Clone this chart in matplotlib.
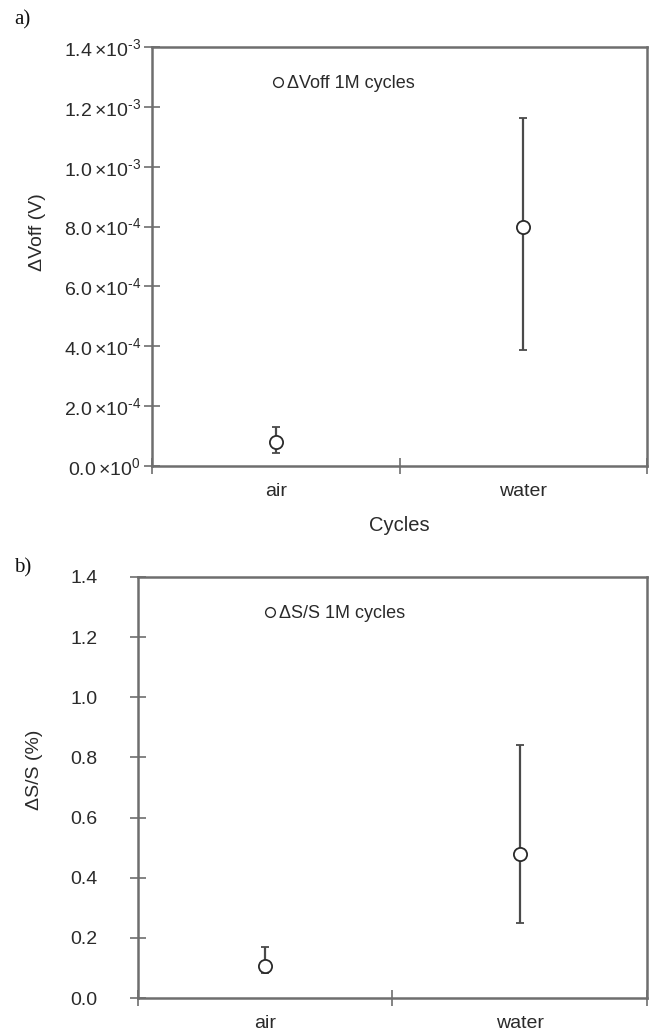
import numpy as np
import matplotlib.pyplot as plt
from matplotlib.ticker import FuncFormatter

categories = ["air", "water"]

# panel a: delta Voff (V)
voff = [0.079e-3, 0.80e-3]
voff_low = [0.044e-3, 0.387e-3]
voff_high = [0.129e-3, 1.164e-3]

# panel b: delta S/S (%)
ss = [0.108, 0.48]
ss_low = [0.084, 0.248]
ss_high = [0.168, 0.84]

voff_ticks = [0, 0.2e-3, 0.4e-3, 0.6e-3, 0.8e-3, 1.0e-3, 1.2e-3, 1.4e-3]
ss_ticks = [0, 0.2, 0.4, 0.6, 0.8, 1.0, 1.2, 1.4]

axis_col = "#6e6e6e"
text_col = "#2a2a2a"
plt.rcParams['font.family'] = ['Liberation Sans', 'DejaVu Sans']
plt.rcParams['mathtext.fontset'] = 'custom'
plt.rcParams['mathtext.rm'] = 'Liberation Sans'


def sci_fmt(v, pos):
    if v == 0:
        return r"$\mathregular{0.0\,{\times}10^{0}}$"
    exp = int(np.floor(np.log10(abs(v)) + 1e-9))
    mant = v / 10 ** exp
    return r"$\mathregular{%.1f\,{\times}10^{\text{-}%d}}$" % (mant, -exp)


def panel(ax, vals, low, high, ticks, fmt, legend_label, leg_pos, ypad):
    x = np.arange(len(categories)) + 0.5
    vals = np.array(vals)
    err = [vals - np.array(low), np.array(high) - vals]
    ax.errorbar(x, vals, yerr=err, fmt='o', color=text_col, ecolor="#4a4a4a",
                elinewidth=1.6, capsize=3, capthick=2.4, markersize=9.5,
                markerfacecolor='white', markeredgecolor=text_col, markeredgewidth=1.3)
    ax.plot([], [], 'o', markersize=7, markerfacecolor='white',
            markeredgecolor=text_col, markeredgewidth=1.0, label=legend_label)
    ax.set_xlim(0, 2)
    ax.set_ylim(ticks[0], ticks[-1])
    ax.set_yticks(ticks)
    ax.yaxis.set_major_formatter(FuncFormatter(fmt))
    ax.set_xticks([0, 1, 2])
    ax.set_xticklabels([])
    ax.set_xticks(x, minor=True)
    ax.set_xticklabels(categories, minor=True)
    ax.tick_params(axis='x', which='minor', length=0, pad=12, labelsize=14, labelcolor=text_col)
    ax.tick_params(axis='x', which='major', direction='inout', length=12, color=axis_col, width=1.2)
    ax.tick_params(axis='y', direction='inout', length=12, color=axis_col, width=1.2, pad=ypad,
                   labelsize=14, labelcolor=text_col)
    for s in ax.spines.values():
        s.set_color(axis_col)
        s.set_linewidth(1.8)
    leg = ax.legend(loc='center left', bbox_to_anchor=leg_pos, frameon=False,
                    handletextpad=0.05, handlelength=0.9, fontsize=13, borderaxespad=0)
    for t in leg.get_texts():
        t.set_color(text_col)


fig = plt.figure(figsize=(6.57, 10.34), dpi=100)
ax1 = fig.add_axes([0.2314, 0.5493, 0.7534, 0.4052])
ax2 = fig.add_axes([0.2100, 0.0348, 0.7747, 0.4072])

panel(ax1, voff, voff_low, voff_high, voff_ticks, sci_fmt, "ΔVoff 1M cycles", (0.223, 0.913), 2)
ax1.set_ylabel("ΔVoff (V)", fontsize=14, color=text_col)
ax1.yaxis.set_label_coords(-0.214, 0.558)
ax1.set_xlabel("Cycles", fontsize=14.5, color=text_col, labelpad=12)

panel(ax2, ss, ss_low, ss_high, ss_ticks, lambda v, p: "%.1f" % v, "ΔS/S 1M cycles", (0.229, 0.913), 23)
ax2.set_ylabel("ΔS/S (%)", fontsize=14, color=text_col)
ax2.yaxis.set_label_coords(-0.186, 0.542)

fig.text(0.022, 0.990, "a)", fontsize=15, family="Liberation Serif", va='top', color="#111111")
fig.text(0.022, 0.460, "b)", fontsize=15, family="Liberation Serif", va='top', color="#111111")

fig.savefig("out.png", dpi=100, facecolor='white')
